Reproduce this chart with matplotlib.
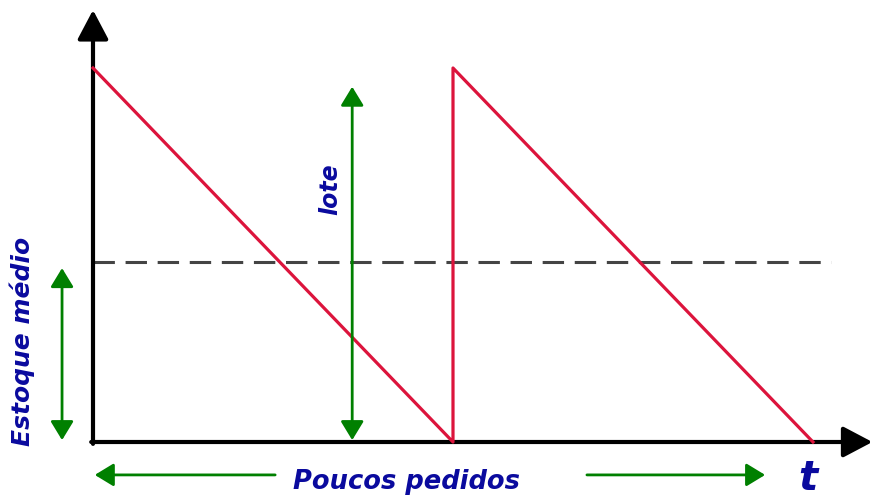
import matplotlib.pyplot as plt

# dados do grafico (estoque x tempo, poucos pedidos)
tempo = [0, 1, 1, 2]
estoque = [1.0, 0.0, 1.0, 0.0]
estoque_medio = 0.48
lote = 0.95
x_lote = 0.72
fim_medio = 2.05

vermelho = '#dc143c'
verde = '#008000'
azul = '#0a0a9e'
cinza = '#333333'
fonte = dict(color=azul, fontstyle='italic', fontweight='bold', family='DejaVu Sans')

fig = plt.figure(figsize=(8.74, 4.98), dpi=100)
ax = fig.add_axes([0, 0, 1, 1])
ax.set_xlim(-93 / 360, (874 - 93) / 360)
ax.set_ylim((442 - 498) / 374, 442 / 374)
ax.axis('off')

# eixos com setas
eixo = dict(arrowstyle='-|>,head_length=1.8,head_width=0.95',
            color=cinza, lw=3, fc='black', ec='black', shrinkA=0, shrinkB=0)
ax.annotate('', xy=(0, 1.155), xytext=(0, -0.005), arrowprops=eixo)
ax.annotate('', xy=(2.165, 0), xytext=(-0.005, 0), arrowprops=eixo)

# estoque medio tracejado
ax.plot([0, fim_medio], [estoque_medio, estoque_medio], color='#444444', lw=2.2,
        dashes=(7, 3.5), zorder=2)

# serra do estoque
ax.plot(tempo, estoque, color=vermelho, lw=2.3, zorder=3)

setas = dict(arrowstyle='<|-|>,head_length=1.15,head_width=0.7', color=verde, lw=2,
             shrinkA=0, shrinkB=0)
# lote
ax.annotate('', xy=(x_lote, lote), xytext=(x_lote, 0.005), arrowprops=setas)
ax.text(0.658, 0.675, 'lote', rotation=90, ha='center', va='center',
        fontsize=17, **fonte)

# estoque medio
ax.annotate('', xy=(-0.086, estoque_medio - 0.015), xytext=(-0.086, 0.005), arrowprops=setas)
ax.text(-0.197, 0.27, 'Estoque médio', rotation=90, ha='center', va='center',
        fontsize=18, **fonte)

# poucos pedidos
seta_h = dict(arrowstyle='-|>,head_length=1.15,head_width=0.7', color=verde, lw=2,
              shrinkA=0, shrinkB=0)
ax.annotate('', xy=(0.005, -0.088), xytext=(0.506, -0.088), arrowprops=seta_h)
ax.annotate('', xy=(1.867, -0.088), xytext=(1.372, -0.088), arrowprops=seta_h)
ax.text(0.872, -0.107, 'Poucos pedidos', ha='center', va='center',
        fontsize=18.5, **fonte)
ax.text(1.986, -0.1, 't', ha='center', va='center',
        fontsize=29, **fonte)

fig.savefig('out.png', dpi=100)
